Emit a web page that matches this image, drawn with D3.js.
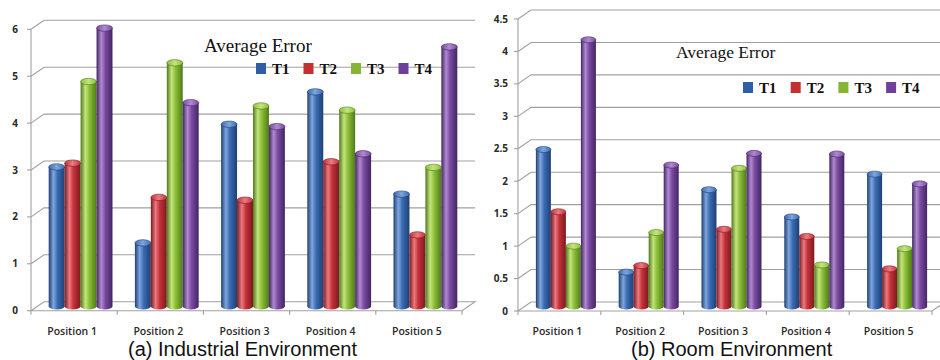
<!DOCTYPE html>
<html>
<head>
<meta charset="utf-8">
<script src="https://cdn.jsdelivr.net/npm/d3@7/dist/d3.min.js"></script>
<style>
  html, body { margin: 0; padding: 0; background: #fff; }
  svg { display: block; }
</style>
</head>
<body>
<svg id="chart" width="940" height="360"></svg>
<script>
// Positions on the x axis and the four series
const categories = ["Position 1", "Position 2", "Position 3", "Position 4", "Position 5"];
const seriesNames = ["T1", "T2", "T3", "T4"];

// (a) Industrial environment – average error per position
const industrialT1 = [2.97, 1.35, 3.88, 4.57, 2.39];
const industrialT2 = [3.05, 2.32, 2.26, 3.08, 1.52];
const industrialT3 = [4.79, 5.19, 4.27, 4.18, 2.96];
const industrialT4 = [5.93, 4.34, 3.83, 3.25, 5.53];
const industrialTicks = [0, 1, 2, 3, 4, 5, 6];

// (b) Room environment – average error per position
const roomT1 = [2.42, 0.53, 1.80, 1.38, 2.04];
const roomT2 = [1.46, 0.63, 1.19, 1.08, 0.58];
const roomT3 = [0.93, 1.14, 2.13, 0.64, 0.89];
const roomT4 = [4.11, 2.18, 2.36, 2.35, 1.89];
const roomTicks = [0, 0.5, 1, 1.5, 2, 2.5, 3, 3.5, 4, 4.5];

const legendTitle = "Average Error";
const captions = ["(a) Industrial Environment", "(b) Room Environment"];

// Cylinder colours: [dark edge, base, highlight]
const palette = {
  T1: { dark: "#1f3f73", base: "#3a6cb3", light: "#7fa6de", swatch: "#2f5ea6" },
  T2: { dark: "#7a1a1f", base: "#c5313a", light: "#ec7a80", swatch: "#c4302f" },
  T3: { dark: "#4f7a1a", base: "#8cbf38", light: "#c4e47e", swatch: "#86b532" },
  T4: { dark: "#432663", base: "#7a4aa0", light: "#b08ad0", swatch: "#6e3f9c" }
};

const svg = d3.select("#chart");
const defs = svg.append("defs");

seriesNames.forEach(s => {
  const c = palette[s];
  const body = defs.append("linearGradient").attr("id", "body-" + s)
    .attr("x1", "0%").attr("x2", "100%").attr("y1", "0%").attr("y2", "0%");
  [[0, c.dark], [0.3, c.light], [0.55, c.base], [1, c.dark]].forEach(([o, col]) =>
    body.append("stop").attr("offset", o).attr("stop-color", col));
  const top = defs.append("linearGradient").attr("id", "top-" + s)
    .attr("x1", "0%").attr("x2", "100%").attr("y1", "0%").attr("y2", "0%");
  [[0, c.base], [0.5, c.light], [1, c.base]].forEach(([o, col]) =>
    top.append("stop").attr("offset", o).attr("stop-color", col));
});

const gridColor = "#a39f9f";
const labelFont = "'Open Sans', 'DejaVu Sans', sans-serif";

function drawPanel(cfg) {
  const g = svg.append("g");
  const y = d3.scaleLinear().domain([0, cfg.max]).range([cfg.y0, cfg.yMax]);
  const x = d3.scaleBand().domain(categories).range([cfg.x0, cfg.x1])
    .paddingInner(cfg.pad).paddingOuter(cfg.pad / 2);
  const xs = d3.scaleBand().domain(seriesNames).range([0, x.bandwidth()]);
  const dx = cfg.dx, dy = cfg.dy;

  // back wall gridlines with the side-wall diagonal
  const grid = g.append("g").attr("stroke", gridColor).attr("stroke-width", 1.1).attr("fill", "none");
  cfg.ticks.forEach(t => {
    const yy = y(t);
    if (t === 0) {
      grid.append("path").attr("d",
        `M${cfg.x0},${yy}L${cfg.x0 + dx},${yy + dy}L${cfg.x1 + dx},${yy + dy}L${cfg.x1},${yy}Z`);
    } else {
      grid.append("path").attr("d",
        `M${cfg.x0},${yy}L${cfg.x0 + dx},${yy + dy}L${cfg.backEnd},${yy + dy}`);
    }
    grid.append("line").attr("x1", cfg.x0 - 4).attr("x2", cfg.x0).attr("y1", yy).attr("y2", yy);
  });
  grid.append("line").attr("x1", cfg.x0).attr("x2", cfg.x0)
    .attr("y1", y(0)).attr("y2", y(cfg.max));
  // category separators on the floor edge
  const bounds = categories.map(c => x(c) - x.step() * x.paddingInner() / 2).concat([cfg.x1]);
  bounds.forEach(b => grid.append("line").attr("x1", b).attr("x2", b)
    .attr("y1", cfg.y0).attr("y2", cfg.y0 + 4));

  // y tick labels
  g.append("g").selectAll("text").data(cfg.ticks).join("text")
    .attr("x", cfg.labelX).attr("y", d => y(d)).attr("dy", "0.35em")
    .attr("text-anchor", "end")
    .attr("font-family", labelFont)
    .attr("font-size", 10).attr("font-weight", 700).attr("fill", "#2a2a2a")
    .text(d => d);

  // category labels
  g.append("g").selectAll("text").data(categories).join("text")
    .attr("x", d => x(d) + x.bandwidth() / 2 - 2).attr("y", 335)
    .attr("text-anchor", "middle")
    .attr("font-family", labelFont)
    .attr("font-size", 10.5).attr("font-weight", 600).attr("fill", "#2a2a2a")
    .text(d => d);

  // cylinders
  const rows = [];
  categories.forEach((c, i) => seriesNames.forEach((s, j) =>
    rows.push({ cat: c, s: s, v: cfg.values[j][i] })));
  const w = xs.bandwidth();
  const ry = w * 0.2;
  const bars = g.append("g").selectAll("g").data(rows).join("g")
    .attr("transform", d => `translate(${x(d.cat) + xs(d.s) + dx / 2},0)`);
  bars.append("path")
    .attr("d", d => {
      const yt = y(d.v) + dy / 2, yb = y(0) + dy / 2;
      return `M0,${yt}L0,${yb}A${w / 2},${ry} 0 0 0 ${w},${yb}L${w},${yt}Z`;
    })
    .attr("fill", d => `url(#body-${d.s})`);
  bars.append("ellipse")
    .attr("cx", w / 2).attr("cy", d => y(d.v) + dy / 2)
    .attr("rx", w / 2).attr("ry", ry)
    .attr("fill", d => `url(#top-${d.s})`)
    .attr("stroke", d => palette[d.s].dark).attr("stroke-width", 0.6);

  // legend
  const lg = g.append("g");
  lg.append("text").attr("x", cfg.titleX).attr("y", cfg.titleY)
    .attr("font-family", "'Liberation Serif', 'Times New Roman', serif")
    .attr("font-size", cfg.titleSize).attr("fill", "#111").text(legendTitle);
  seriesNames.forEach((s, j) => {
    const lx = cfg.legendX + j * cfg.legendStep;
    lg.append("rect").attr("x", lx).attr("y", cfg.legendY - 5.5)
      .attr("width", 10).attr("height", 11).attr("fill", palette[s].swatch);
    lg.append("text").attr("x", lx + 16).attr("y", cfg.legendY).attr("dy", "0.35em")
      .attr("font-family", "'Liberation Serif', 'Times New Roman', serif")
      .attr("font-weight", "bold").attr("font-size", 15).attr("fill", "#111").text(s);
  });

  // caption
  g.append("text").attr("x", cfg.captionX).attr("y", 356)
    .attr("font-family", "'Liberation Sans', Arial, sans-serif")
    .attr("font-size", 20).attr("fill", "#111").text(cfg.caption);
}

drawPanel({
  values: [industrialT1, industrialT2, industrialT3, industrialT4],
  ticks: industrialTicks, max: 6,
  x0: 31, x1: 462, y0: 310.7, yMax: 29.3, dx: 13, dy: -9, backEnd: 475,
  pad: 0.26, labelX: 18,
  titleX: 204, titleY: 52, titleSize: 19,
  legendX: 256, legendY: 68.5, legendStep: 47.5,
  caption: captions[0], captionX: 128
});

drawPanel({
  values: [roomT1, roomT2, roomT3, roomT4],
  ticks: roomTicks, max: 4.5,
  x0: 518, x1: 932, y0: 311, yMax: 19, dx: 13, dy: -9, backEnd: 940,
  pad: 0.275, labelX: 508,
  titleX: 676, titleY: 58, titleSize: 17.5,
  legendX: 743, legendY: 87.5, legendStep: 47.7,
  caption: captions[1], captionX: 631
});
</script>
</body>
</html>
